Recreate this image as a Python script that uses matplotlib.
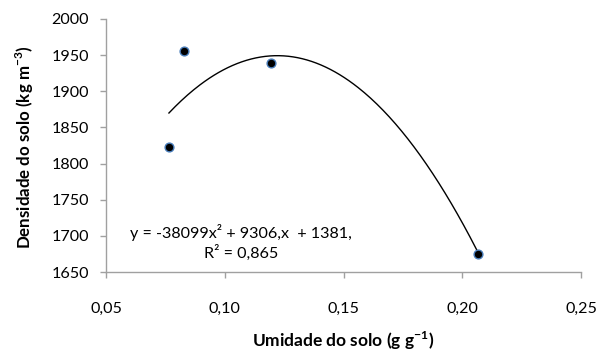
import matplotlib
matplotlib.use("Agg")
import matplotlib.pyplot as plt
import numpy as np
from matplotlib.ticker import FuncFormatter

umidade = [0.0765, 0.0828, 0.1193, 0.2065]
densidade = [1823, 1956, 1939, 1675]
coef = [-38099, 9306, 1381]
x_ticks = [0.05, 0.10, 0.15, 0.20, 0.25]
y_ticks = [1650, 1700, 1750, 1800, 1850, 1900, 1950, 2000]

plt.rcParams['font.family'] = ['Lato', 'DejaVu Sans']
plt.rcParams['mathtext.fontset'] = 'custom'
plt.rcParams['mathtext.rm'] = 'Lato'
plt.rcParams['mathtext.bf'] = 'Lato:bold'

W, H = 611, 351
fig = plt.figure(figsize=(W/100, H/100), dpi=100)
ax = fig.add_axes([106/W, 1 - 272/H, (581-106)/W, (272-19)/H])

xs = np.linspace(min(umidade), max(umidade), 200)
ax.plot(xs, np.polyval(coef, xs), color='black', lw=1.0, zorder=2)
ax.scatter(umidade, densidade, s=40, color='black', edgecolors='#4a7ebb', linewidths=1.0, zorder=3)

ax.set_xlim(0.05, 0.25)
ax.set_ylim(1650, 2000)
ax.set_xticks(x_ticks)
ax.set_yticks(y_ticks)
ax.xaxis.set_major_formatter(FuncFormatter(lambda v, p: f"{v:.2f}".replace('.', ',')))
ax.tick_params(axis='both', labelsize=11.6, color='#a0a0a0', length=4.3, width=1)
ax.tick_params(axis='x', pad=17)
ax.tick_params(axis='y', pad=8)
for s in ['top', 'right']:
    ax.spines[s].set_visible(False)
for s in ['left', 'bottom']:
    ax.spines[s].set_color('#a0a0a0')
    ax.spines[s].set_linewidth(1)

fig.text(343.5/W, 1 - 341/H, 'Umidade do solo (g g$^{\\mathbf{-1}}$)', fontsize=12.5,
         fontweight='bold', ha='center', va='center')
fig.text(25/W, 1 - 147/H, 'Densidade do solo (kg m$^{\\mathbf{-3}}$)', fontsize=12.2,
         fontweight='bold', ha='center', va='center', rotation=90)

ax.text(0.1068, 1704, 'y = -38099x² + 9306,x  + 1381,', fontsize=11.6, ha='center', va='center')
ax.text(0.1068, 1676, 'R² = 0,865', fontsize=11.6, ha='center', va='center')

fig.savefig('out.png', dpi=100)
